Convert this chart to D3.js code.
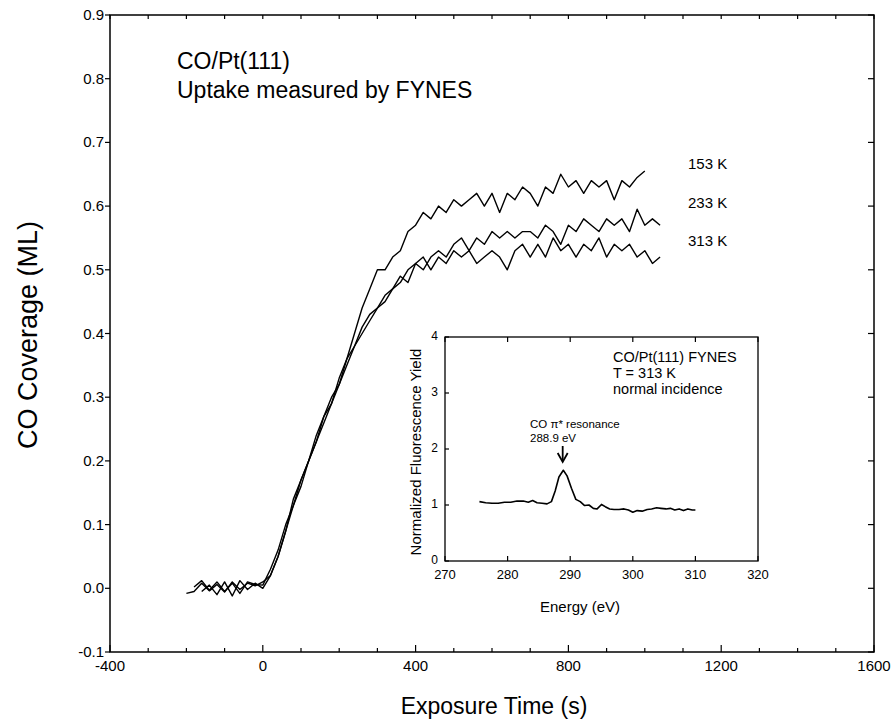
<!DOCTYPE html>
<html>
<head>
<meta charset="utf-8">
<script src="https://cdn.jsdelivr.net/npm/d3@7"></script>
<style>
  body { margin: 0; background: #fff; }
  svg text { font-family: "Liberation Sans", Arial, sans-serif; fill: #000; }
</style>
</head>
<body>
<div id="chart"></div>
<script>
// Uptake curves, exposure time (s) vs CO coverage (ML)
var t153 = [-200,-180,-160,-140,-120,-100,-80,-60,-40,-20,0,20,40,60,80,100,120,140,160,180,200,220,240,260,280,300,320,340,360,380,400,420,440,460,480,500,520,540,560,580,600,620,640,660,680,700,720,740,760,780,800,820,840,860,880,900,920,940,960,980,1000];
var c153 = [-0.008,-0.005,0.008,-0.004,0.006,-0.006,0.01,-0.002,0.008,0.004,0.01,0.02,0.05,0.09,0.13,0.17,0.2,0.23,0.26,0.29,0.32,0.36,0.4,0.44,0.47,0.5,0.5,0.52,0.53,0.56,0.57,0.59,0.58,0.6,0.59,0.61,0.6,0.61,0.62,0.6,0.62,0.59,0.62,0.61,0.63,0.62,0.6,0.63,0.62,0.65,0.63,0.64,0.62,0.64,0.63,0.64,0.61,0.64,0.63,0.645,0.655];

var t233 = [-180,-160,-140,-120,-100,-80,-60,-40,-20,0,20,40,60,80,100,120,140,160,180,200,220,240,260,280,300,320,340,360,380,400,420,440,460,480,500,520,540,560,580,600,620,640,660,680,700,720,740,760,780,800,820,840,860,880,900,920,940,960,980,1000,1020,1040];
var c233 = [0.002,0.012,-0.003,0.01,-0.005,0.008,-0.008,0.01,0.006,0.005,0.03,0.06,0.1,0.13,0.16,0.2,0.24,0.27,0.29,0.33,0.36,0.38,0.41,0.43,0.44,0.45,0.47,0.48,0.5,0.51,0.5,0.52,0.53,0.52,0.54,0.55,0.53,0.55,0.54,0.56,0.55,0.56,0.55,0.56,0.56,0.55,0.57,0.56,0.54,0.57,0.56,0.58,0.57,0.56,0.58,0.57,0.58,0.56,0.595,0.57,0.58,0.57];

var t313 = [-160,-140,-120,-100,-80,-60,-40,-20,0,20,40,60,80,100,120,140,160,180,200,220,240,260,280,300,320,340,360,380,400,420,440,460,480,500,520,540,560,580,600,620,640,660,680,700,720,740,760,780,800,820,840,860,880,900,920,940,960,980,1000,1020,1040];
var c313 = [-0.005,0.005,-0.01,0.01,-0.012,0.012,-0.002,0.008,0.0,0.02,0.05,0.09,0.14,0.17,0.2,0.23,0.27,0.3,0.32,0.35,0.38,0.4,0.42,0.44,0.46,0.47,0.49,0.48,0.51,0.52,0.5,0.52,0.51,0.53,0.52,0.53,0.51,0.52,0.53,0.52,0.5,0.53,0.54,0.52,0.54,0.52,0.55,0.53,0.54,0.52,0.54,0.53,0.55,0.52,0.54,0.53,0.54,0.52,0.53,0.51,0.52];

var curveLabels = ["153 K", "233 K", "313 K"];
var labelY = [0.667, 0.607, 0.547];

// Inset: NEXAFS spectrum, energy (eV) vs normalized fluorescence yield
var energy = [275.5,276.5,277.5,278.5,279.5,280.5,281.5,282.5,283.3,284,284.7,285.5,286.3,287,287.6,288.2,288.9,289.5,290.2,290.9,291.6,292.3,293,293.7,294.3,295,295.6,296.3,297,297.8,298.6,299.3,300,300.7,301.5,302.3,303,303.8,304.5,305.3,306,306.7,307.4,308.1,308.8,309.5,310];
var yieldVals = [1.06,1.04,1.03,1.03,1.05,1.05,1.07,1.07,1.05,1.08,1.04,1.03,1.02,1.06,1.25,1.5,1.62,1.52,1.3,1.1,1.06,0.99,1.0,0.94,0.93,1.01,0.97,0.93,0.92,0.92,0.93,0.91,0.87,0.9,0.89,0.92,0.93,0.95,0.94,0.93,0.94,0.91,0.93,0.9,0.93,0.91,0.91];

var xTicks = [-400, 0, 400, 800, 1200, 1600];
var yTicks = [-0.1, 0.0, 0.1, 0.2, 0.3, 0.4, 0.5, 0.6, 0.7, 0.8, 0.9];
var insetXTicks = [270, 280, 290, 300, 310, 320];
var insetYTicks = [0, 1, 2, 3, 4];

var width = 892, height = 723;
var mLeft = 110, mRight = 874, mTop = 15, mBottom = 652;

var svg = d3.select("#chart").append("svg")
    .attr("width", width)
    .attr("height", height);

var x = d3.scaleLinear().domain([-400, 1600]).range([mLeft, mRight]);
var y = d3.scaleLinear().domain([-0.1, 0.9]).range([mBottom, mTop]);

// frame
svg.append("rect")
    .attr("x", mLeft).attr("y", mTop)
    .attr("width", mRight - mLeft).attr("height", mBottom - mTop)
    .attr("fill", "none").attr("stroke", "#000").attr("stroke-width", 1.5);

// bottom axis: small inward ticks every 100 s, labels every 400 s
var minorX = d3.range(-400, 1601, 100);
svg.append("g").selectAll("line").data(minorX).enter().append("line")
    .attr("x1", d => x(d)).attr("x2", d => x(d))
    .attr("y1", mBottom).attr("y2", d => mBottom - (d % 400 === 0 ? 7 : 4))
    .attr("stroke", "#000").attr("stroke-width", 1.2);
svg.append("g").selectAll("line").data(minorX).enter().append("line")
    .attr("x1", d => x(d)).attr("x2", d => x(d))
    .attr("y1", mTop).attr("y2", mTop + 4)
    .attr("stroke", "#000").attr("stroke-width", 1.2);
svg.append("g").selectAll("text").data(xTicks).enter().append("text")
    .attr("x", d => x(d)).attr("y", mBottom + 19)
    .attr("text-anchor", "middle").attr("font-size", 15)
    .text(d => d);

// left / right ticks
svg.append("g").selectAll("line").data(yTicks).enter().append("line")
    .attr("x1", mLeft - 5).attr("x2", mLeft)
    .attr("y1", d => y(d)).attr("y2", d => y(d))
    .attr("stroke", "#000").attr("stroke-width", 1.2);
svg.append("g").selectAll("line").data(yTicks).enter().append("line")
    .attr("x1", mRight - 6).attr("x2", mRight)
    .attr("y1", d => y(d)).attr("y2", d => y(d))
    .attr("stroke", "#000").attr("stroke-width", 1.2);
svg.append("g").selectAll("text").data(yTicks).enter().append("text")
    .attr("x", mLeft - 6).attr("y", d => y(d) + 5)
    .attr("text-anchor", "end").attr("font-size", 15)
    .text(d => d.toFixed(1));

// axis titles
svg.append("text")
    .attr("x", 494).attr("y", 714)
    .attr("text-anchor", "middle").attr("font-size", 23)
    .text("Exposure Time (s)");
svg.append("text")
    .attr("transform", "translate(37," + 335 + ") rotate(-90)")
    .attr("text-anchor", "middle").attr("font-size", 27)
    .text("CO Coverage (ML)");

// heading
svg.append("text").attr("x", 177).attr("y", 69).attr("font-size", 23).text("CO/Pt(111)");
svg.append("text").attr("x", 177).attr("y", 98).attr("font-size", 23).text("Uptake measured by FYNES");

// uptake curves
var line = d3.line().x(d => x(d[0])).y(d => y(d[1]));
var series = [d3.zip(t153, c153), d3.zip(t233, c233), d3.zip(t313, c313)];
svg.append("g").selectAll("path").data(series).enter().append("path")
    .attr("d", line)
    .attr("fill", "none").attr("stroke", "#000").attr("stroke-width", 1.4)
    .attr("stroke-linejoin", "round");

svg.append("g").selectAll("text").data(curveLabels).enter().append("text")
    .attr("x", 688).attr("y", (d, i) => y(labelY[i]) + 6)
    .attr("font-size", 15)
    .text(d => d);

// ---- inset ----
var iLeft = 445, iRight = 758, iTop = 337, iBottom = 561;
var ix = d3.scaleLinear().domain([270, 320]).range([iLeft, iRight]);
var iy = d3.scaleLinear().domain([0, 4]).range([iBottom, iTop]);

var inset = svg.append("g");
inset.append("rect")
    .attr("x", iLeft).attr("y", iTop)
    .attr("width", iRight - iLeft).attr("height", iBottom - iTop)
    .attr("fill", "#fff").attr("stroke", "#000").attr("stroke-width", 1.3);

inset.append("g").selectAll("line").data(insetXTicks).enter().append("line")
    .attr("x1", d => ix(d)).attr("x2", d => ix(d))
    .attr("y1", iBottom).attr("y2", iBottom - 5)
    .attr("stroke", "#000").attr("stroke-width", 1.2);
inset.append("g").selectAll("line").data(insetXTicks).enter().append("line")
    .attr("x1", d => ix(d)).attr("x2", d => ix(d))
    .attr("y1", iTop).attr("y2", iTop + 5)
    .attr("stroke", "#000").attr("stroke-width", 1.2);
inset.append("g").selectAll("text").data(insetXTicks).enter().append("text")
    .attr("x", d => ix(d)).attr("y", iBottom + 18)
    .attr("text-anchor", "middle").attr("font-size", 13)
    .text(d => d);

inset.append("g").selectAll("line").data(insetYTicks).enter().append("line")
    .attr("x1", iLeft).attr("x2", iLeft + 4)
    .attr("y1", d => iy(d)).attr("y2", d => iy(d))
    .attr("stroke", "#000").attr("stroke-width", 1.2);
inset.append("g").selectAll("text").data(insetYTicks).enter().append("text")
    .attr("x", iLeft - 7).attr("y", d => iy(d) + 3)
    .attr("text-anchor", "end").attr("font-size", 12)
    .text(d => d);

inset.append("text")
    .attr("x", 580).attr("y", 612)
    .attr("text-anchor", "middle").attr("font-size", 15)
    .text("Energy (eV)");
inset.append("text")
    .attr("transform", "translate(421," + 452 + ") rotate(-90)")
    .attr("text-anchor", "middle").attr("font-size", 15)
    .text("Normalized Fluorescence Yield");

var iline = d3.line().x(d => ix(d[0])).y(d => iy(d[1]));
inset.append("path")
    .attr("d", iline(d3.zip(energy, yieldVals)))
    .attr("fill", "none").attr("stroke", "#000").attr("stroke-width", 1.6)
    .attr("stroke-linejoin", "round");

inset.append("text").attr("x", 613).attr("y", 362).attr("font-size", 14.5).text("CO/Pt(111) FYNES");
inset.append("text").attr("x", 613).attr("y", 378).attr("font-size", 14.5).text("T = 313 K");
inset.append("text").attr("x", 613).attr("y", 394).attr("font-size", 14.5).text("normal incidence");

inset.append("text").attr("x", 530).attr("y", 428).attr("font-size", 11.5).text("CO \u03c0* resonance");
inset.append("text").attr("x", 530).attr("y", 442).attr("font-size", 11.5).text("288.9 eV");

// arrow to the peak
var ax = ix(288.8);
inset.append("line")
    .attr("x1", ax).attr("x2", ax).attr("y1", 446).attr("y2", 461)
    .attr("stroke", "#000").attr("stroke-width", 1.8);
inset.append("path")
    .attr("d", "M" + (ax - 5) + ",453 L" + ax + ",462 L" + (ax + 5) + ",453")
    .attr("fill", "none").attr("stroke", "#000").attr("stroke-width", 1.8);
</script>
</body>
</html>
